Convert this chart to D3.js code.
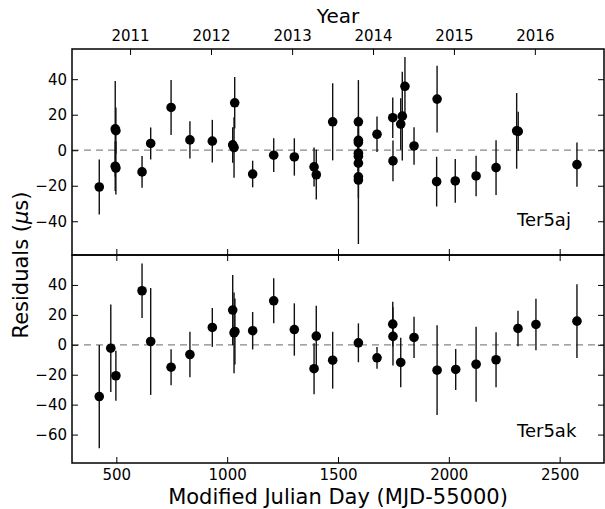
<!DOCTYPE html>
<html>
<head>
<meta charset="utf-8">
<script src="https://d3js.org/d3.v7.min.js"></script>
<style>
body { margin: 0; background: #fff; }
text { font-family: "DejaVu Sans", sans-serif; }
</style>
</head>
<body>
<script>
var width = 605, height = 509;

// Ter5aj residuals: MJD-55000, residual (us), error (us)
var ajMjd = [423, 495, 498, 495, 498, 616, 655, 747, 832, 933, 1025, 1031, 1034, 1115, 1210, 1303, 1392, 1402, 1476,
  1592, 1592, 1592, 1592, 1592, 1592, 1592, 1592, 1676, 1747, 1748, 1783, 1790, 1802, 1843, 1947, 1945, 2029, 2123, 2213, 2306, 2313, 2578];
var ajRes = [-20.7, 12, 11, -9, -10, -12.2, 3.8, 24.1, 5.8, 5.1, 3, 1.5, 26.7, -13.4, -2.8, -3.8, -9.4, -13.8, 16,
  16, 5.6, 4.3, -1.7, -3.4, -7.3, -15, -16.8, 9, 18.3, -6, 14.7, 19.2, 36, 2.4, 28.8, -17.7, -17.3, -14.5, -9.8, 10.9, 10.6, -8.1];
var ajErr = [15.5, 27, 13, 14, 15, 9, 9, 15.5, 10.5, 12, 10, 17, 14.5, 7.5, 9.5, 10.5, 11, 14, 21.7,
  23.5, 10, 8, 10, 9, 10, 12, 36, 10, 11.4, 11.5, 14.5, 25, 16.5, 10.6, 18.8, 14, 12.3, 11.4, 15.4, 21.3, 11, 12.5];

// Ter5ak residuals
var akMjd = [423, 475, 498, 616, 655, 747, 832, 933, 1025, 1031, 1035, 1115, 1210, 1303, 1392, 1402, 1476,
  1592, 1676, 1747, 1748, 1783, 1843, 1947, 2031, 2123, 2213, 2312, 2393, 2578];
var akRes = [-34.6, -2.3, -20.7, 36.1, 2.2, -15, -6.5, 11.6, 23.2, 8, 8.9, 9.4, 29.4, 10.2, -16, 5.8, -10.3,
  1.3, -8.7, 13.8, 5.6, -11.8, 4.9, -17, -16.5, -13, -10, 10.9, 13.6, 15.8];
var akErr = [34.5, 29.3, 16.7, 18.2, 35.7, 12, 15.2, 13, 23.5, 27, 22, 12.5, 15, 17.5, 17, 20.3, 19,
  13, 7.3, 15, 19.5, 16.5, 13.8, 30, 13.7, 25, 18.4, 11.8, 17.2, 24.6];

// top axis: Jan 1 of each year in MJD-55000
var years = ["2011", "2012", "2013", "2014", "2015", "2016"];
var yearMjd = [562, 927, 1293, 1658, 2023, 2388];

var xTicks = [500, 1000, 1500, 2000, 2500];
var ajTicks = [-40, -20, 0, 20, 40];
var akTicks = [-60, -40, -20, 0, 20, 40];

var left = 72, right = 604, top1 = 49, mid = 255, bottom = 463;

var svg = d3.select('body').append('svg').attr('width', width).attr('height', height);
svg.append('rect').attr('width', width).attr('height', height).attr('fill', '#fff');

var x = d3.scaleLinear().domain([300, 2700]).range([left, right]);
var yTop = d3.scaleLinear().domain([-59, 57]).range([mid, top1]);
var yBot = d3.scaleLinear().domain([-79, 60]).range([bottom, mid]);

function fmt(d) { return d < 0 ? '\u2212' + Math.abs(d) : '' + d; }

function panel(y, mjd, res, err, yticks, name, labelY, topYears) {
  var g = svg.append('g');
  // zero line
  g.append('line')
    .attr('x1', left).attr('x2', right)
    .attr('y1', y(0)).attr('y2', y(0))
    .attr('stroke', '#888').attr('stroke-width', 1.2).attr('stroke-dasharray', '7,5');

  var pts = d3.range(mjd.length).map(function(i) { return {m: mjd[i], r: res[i], e: err[i]}; });
  g.selectAll('line.err').data(pts).join('line')
    .attr('class', 'err')
    .attr('x1', function(d) { return x(d.m); }).attr('x2', function(d) { return x(d.m); })
    .attr('y1', function(d) { return y(d.r - d.e); }).attr('y2', function(d) { return y(d.r + d.e); })
    .attr('stroke', '#111').attr('stroke-width', 1.4);
  g.selectAll('circle').data(pts).join('circle')
    .attr('cx', function(d) { return x(d.m); })
    .attr('cy', function(d) { return y(d.r); })
    .attr('r', 4.8).attr('fill', '#000');

  // ticks, pointing inward
  var y0 = y.range()[1], y1 = y.range()[0];
  var ax = g.append('g').attr('transform', 'translate(' + left + ',0)')
    .call(d3.axisLeft(y).tickValues(yticks).tickSize(-6).tickPadding(5).tickFormat(fmt));
  ax.selectAll('text').attr('font-size', 15).attr('fill', '#000');
  g.append('g').attr('transform', 'translate(' + right + ',0)')
    .call(d3.axisRight(y).tickValues(yticks).tickSize(-6).tickFormat(''));
  g.append('g').attr('transform', 'translate(0,' + y1 + ')')
    .call(d3.axisBottom(x).tickValues(xTicks).tickSize(-6).tickFormat(''));
  if (topYears) {
    var ty = g.append('g').attr('transform', 'translate(0,' + y0 + ')')
      .call(d3.axisTop(x).tickValues(yearMjd).tickSize(-6).tickPadding(8).tickFormat(function(d, i) { return years[i]; }));
    ty.selectAll('text').attr('font-size', 15).attr('fill', '#000');
  } else {
    g.append('g').attr('transform', 'translate(0,' + y0 + ')')
      .call(d3.axisTop(x).tickValues(xTicks).tickSize(-6).tickFormat(''));
  }
  g.selectAll('.domain').remove();
  g.selectAll('.tick line').attr('stroke', '#000').attr('stroke-width', 1);

  g.append('rect').attr('x', left).attr('y', y0).attr('width', right - left).attr('height', y1 - y0)
    .attr('fill', 'none').attr('stroke', '#000').attr('stroke-width', 1.5);

  g.append('text').attr('x', 517).attr('y', labelY).attr('font-size', 18).text(name);
  return g;
}

panel(yTop, ajMjd, ajRes, ajErr, ajTicks, 'Ter5aj', 226, true);
panel(yBot, akMjd, akRes, akErr, akTicks, 'Ter5ak', 437, false);

// bottom x tick labels
var xa = svg.append('g').attr('transform', 'translate(0,' + bottom + ')')
  .call(d3.axisBottom(x).tickValues(xTicks).tickSize(0).tickPadding(6).tickFormat(d3.format('d')));
xa.select('.domain').remove();
xa.selectAll('text').attr('font-size', 15).attr('fill', '#000');

svg.append('text').attr('x', (left + right) / 2).attr('y', 504)
  .attr('text-anchor', 'middle').attr('font-size', 21).text('Modified Julian Day (MJD-55000)');
svg.append('text').attr('x', (left + right) / 2).attr('y', 23)
  .attr('text-anchor', 'middle').attr('font-size', 20).text('Year');

var yl = svg.append('text').attr('transform', 'translate(28,265) rotate(-90)')
  .attr('text-anchor', 'middle').attr('font-size', 21);
yl.append('tspan').text('Residuals (');
yl.append('tspan').attr('font-style', 'italic').text('\u03bc');
yl.append('tspan').text('s)');
</script>
</body>
</html>
